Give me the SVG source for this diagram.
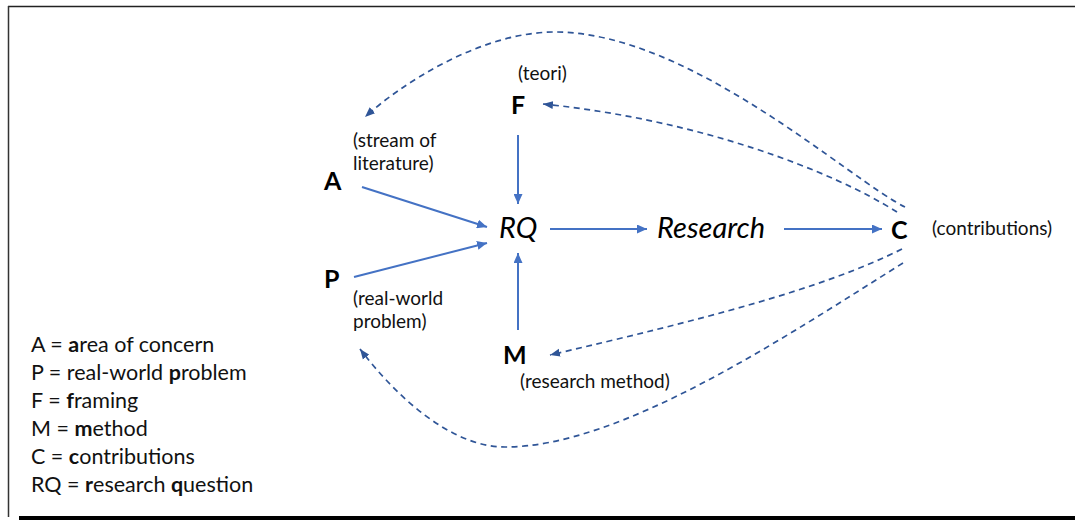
<svg xmlns="http://www.w3.org/2000/svg" width="1075" height="520" viewBox="0 0 1075 520">
  <style>
    .lbl { font-family: Lato, "Liberation Sans", sans-serif; font-size: 19px; fill: #111; }
    .key { font-family: Lato, "Liberation Sans", sans-serif; font-size: 21.5px; fill: #111; }
    .big { font-family: Lato, "Liberation Sans", sans-serif; font-size: 25px; font-weight: bold; fill: #000; }
    .ital { font-family: Lato, "Liberation Sans", sans-serif; font-size: 29px; font-style: italic; fill: #000; }
    .b { font-weight: bold; }
    .solid { fill: none; stroke: #4472C4; stroke-width: 2; }
    .dash { fill: none; stroke: #2F5597; stroke-width: 1.7; stroke-dasharray: 6 4.5; }
  </style>
  <defs>
    <marker id="headSolid" markerUnits="userSpaceOnUse" markerWidth="11" markerHeight="9" refX="10" refY="4.5" orient="auto">
      <path d="M0,0 L10,4.5 L0,9 Z" fill="#4472C4"/>
    </marker>
    <marker id="headDash" markerUnits="userSpaceOnUse" markerWidth="11" markerHeight="9" refX="10" refY="4.5" orient="auto">
      <path d="M0,0.5 L10,4.5 L0,8.5 Z" fill="#2F5597"/>
    </marker>
  </defs>

  <rect width="1075" height="520" fill="#fff"/>
  <!-- frame -->
  <g id="frame">
    <line x1="8" y1="6.5" x2="1075" y2="6.5" stroke="#222" stroke-width="1.5"/>
    <line x1="8.5" y1="6" x2="8.5" y2="517" stroke="#333" stroke-width="1.5"/>
    <rect x="19" y="516" width="1056" height="4" fill="#000"/>
  </g>

  <!-- connectors -->
  <g id="connectors">
    <line class="solid" x1="362" y1="187" x2="487" y2="227" marker-end="url(#headSolid)"/>
    <line class="solid" x1="354" y1="277" x2="487" y2="243" marker-end="url(#headSolid)"/>
    <line class="solid" x1="518" y1="135" x2="518" y2="204" marker-end="url(#headSolid)"/>
    <line class="solid" x1="518" y1="330" x2="518" y2="253" marker-end="url(#headSolid)"/>
    <line class="solid" x1="550" y1="229" x2="647" y2="229" marker-end="url(#headSolid)"/>
    <line class="solid" x1="784" y1="229" x2="882" y2="229" marker-end="url(#headSolid)"/>

    <path class="dash" d="M905,207 C850,180 690,32 555,32 C480,32 400,85 365,117" marker-end="url(#headDash)"/>
    <path class="dash" d="M897,212 C830,170 700,120 543,104" marker-end="url(#headDash)"/>
    <path class="dash" d="M902,249 C820,290 700,320 550,355" marker-end="url(#headDash)"/>
    <path class="dash" d="M903,263 C780,340 620,447 505,447 C450,447 395,395 360,349" marker-end="url(#headDash)"/>
  </g>

  <!-- nodes -->
  <g id="node-A">
    <text class="big" x="324" y="190">A</text>
    <text class="lbl" x="353" y="147">(stream of</text>
    <text class="lbl" x="353" y="170">literature)</text>
  </g>
  <g id="node-P">
    <text class="big" x="324" y="288">P</text>
    <text class="lbl" x="353" y="305">(real-world</text>
    <text class="lbl" x="353" y="328">problem)</text>
  </g>
  <g id="node-F">
    <text class="lbl" x="518" y="80">(teori)</text>
    <text class="big" x="511" y="114">F</text>
  </g>
  <g id="node-RQ">
    <text class="ital" x="499" y="238">RQ</text>
  </g>
  <g id="node-Research">
    <text class="ital" x="657" y="238">Research</text>
  </g>
  <g id="node-C">
    <text class="big" x="891" y="239">C</text>
    <text class="lbl" x="932" y="235">(contributions)</text>
  </g>
  <g id="node-M">
    <text class="big" x="503" y="364">M</text>
    <text class="lbl" x="520" y="388">(research method)</text>
  </g>

  <!-- key -->
  <g id="legend">
    <text class="key" x="31" y="352">A = <tspan class="b">a</tspan>rea of concern</text>
    <text class="key" x="31" y="380">P = real-world <tspan class="b">p</tspan>roblem</text>
    <text class="key" x="31" y="408">F = <tspan class="b">f</tspan>raming</text>
    <text class="key" x="31" y="436">M = <tspan class="b">m</tspan>ethod</text>
    <text class="key" x="31" y="464">C = <tspan class="b">c</tspan>ontributions</text>
    <text class="key" x="31" y="492">RQ = <tspan class="b">r</tspan>esearch <tspan class="b">q</tspan>uestion</text>
  </g>
</svg>
